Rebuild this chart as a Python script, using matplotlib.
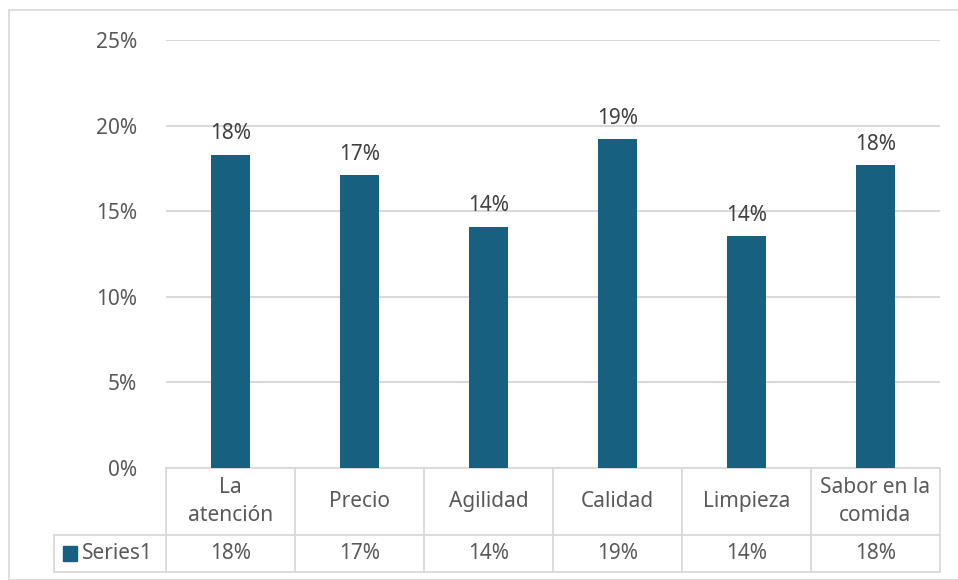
import matplotlib.pyplot as plt
from matplotlib.patches import Rectangle
from matplotlib.transforms import blended_transform_factory

# ── Datos ─────────────────────────────────────────────────────────────────────
categorias = ["La\natención", "Precio", "Agilidad", "Calidad", "Limpieza", "Sabor en la\ncomida"]
valores = [0.183, 0.171, 0.141, 0.192, 0.1355, 0.177]
serie = "Series1"
yticks = [0.0, 0.05, 0.10, 0.15, 0.20, 0.25]

COLORS = {
    "bar": "#17607F",
    "text": "#595959",
    "grid": "#D9D9D9",
    "border": "#D9D9D9",
}
FS = 15

plt.rcParams["font.family"] = ["Noto Sans", "DejaVu Sans"]

W, H = 958, 580
fig = plt.figure(figsize=(W / 100, H / 100), dpi=100)

# borde exterior del gráfico
fig.patches.append(Rectangle((9 / W, 0), 1, 1 - 10 / H, transform=fig.transFigure,
                             fill=False, edgecolor=COLORS["border"], linewidth=1.2))

x0, x1, ytop, ybot = 166, 940, 40, 468
ax = fig.add_axes([x0 / W, 1 - ybot / H, (x1 - x0) / W, (ybot - ytop) / H])

n = len(categorias)
xs = list(range(n))
ax.bar(xs, valores, width=0.31, color=COLORS["bar"], zorder=3)
for x, v in zip(xs, valores):
    ax.text(x, v + 0.006, f"{round(v * 100):.0f}%", ha="center", va="bottom",
            fontsize=FS, color="#404040", zorder=4)

ax.set_xlim(-0.5, n - 0.5)
ax.set_ylim(0, 0.25)
ax.set_yticks(yticks)
ax.set_yticklabels([f"{t * 100:.0f}%" for t in yticks], fontsize=FS, color=COLORS["text"])
ax.tick_params(axis="y", length=0, pad=21)
ax.set_xticks([])
ax.grid(axis="y", color=COLORS["grid"], linewidth=1.5, zorder=0)
for s in ax.spines.values():
    s.set_visible(False)

# ── Tabla de datos ────────────────────────────────────────────────────────────
trans = blended_transform_factory(ax.transData, ax.transAxes)
h_axes = ybot - ytop
r1 = -67 / h_axes
r2 = -104 / h_axes
left = -0.5 - (x0 - 54) / ((x1 - x0) / n)
lc = COLORS["border"]
lw = 1.3

ax.plot([-0.5, n - 0.5], [0, 0], transform=trans, color=lc, lw=lw, clip_on=False)
ax.plot([left, n - 0.5], [r1, r1], transform=trans, color=lc, lw=lw, clip_on=False)
ax.plot([left, n - 0.5], [r2, r2], transform=trans, color=lc, lw=lw, clip_on=False)
ax.plot([left, left], [r1, r2], transform=trans, color=lc, lw=lw, clip_on=False)
for i in range(n + 1):
    ax.plot([i - 0.5, i - 0.5], [0, r2], transform=trans, color=lc, lw=lw, clip_on=False)

for x, cat, v in zip(xs, categorias, valores):
    ax.text(x, r1 / 2, cat, transform=trans, ha="center", va="center",
            fontsize=FS, color=COLORS["text"], linespacing=1.4)
    ax.text(x, (r1 + r2) / 2, f"{round(v * 100):.0f}%", transform=trans,
            ha="center", va="center", fontsize=FS, color=COLORS["text"])

# leyenda de la serie en la tabla
ax.add_patch(Rectangle((left + 0.07, (r1 + r2) / 2 - 0.018), 0.105, 0.036,
                       transform=trans, color=COLORS["bar"], clip_on=False))
ax.text(left + 0.215, (r1 + r2) / 2, serie, transform=trans, ha="left", va="center",
        fontsize=FS, color=COLORS["text"])

fig.savefig("out.png", dpi=100)
